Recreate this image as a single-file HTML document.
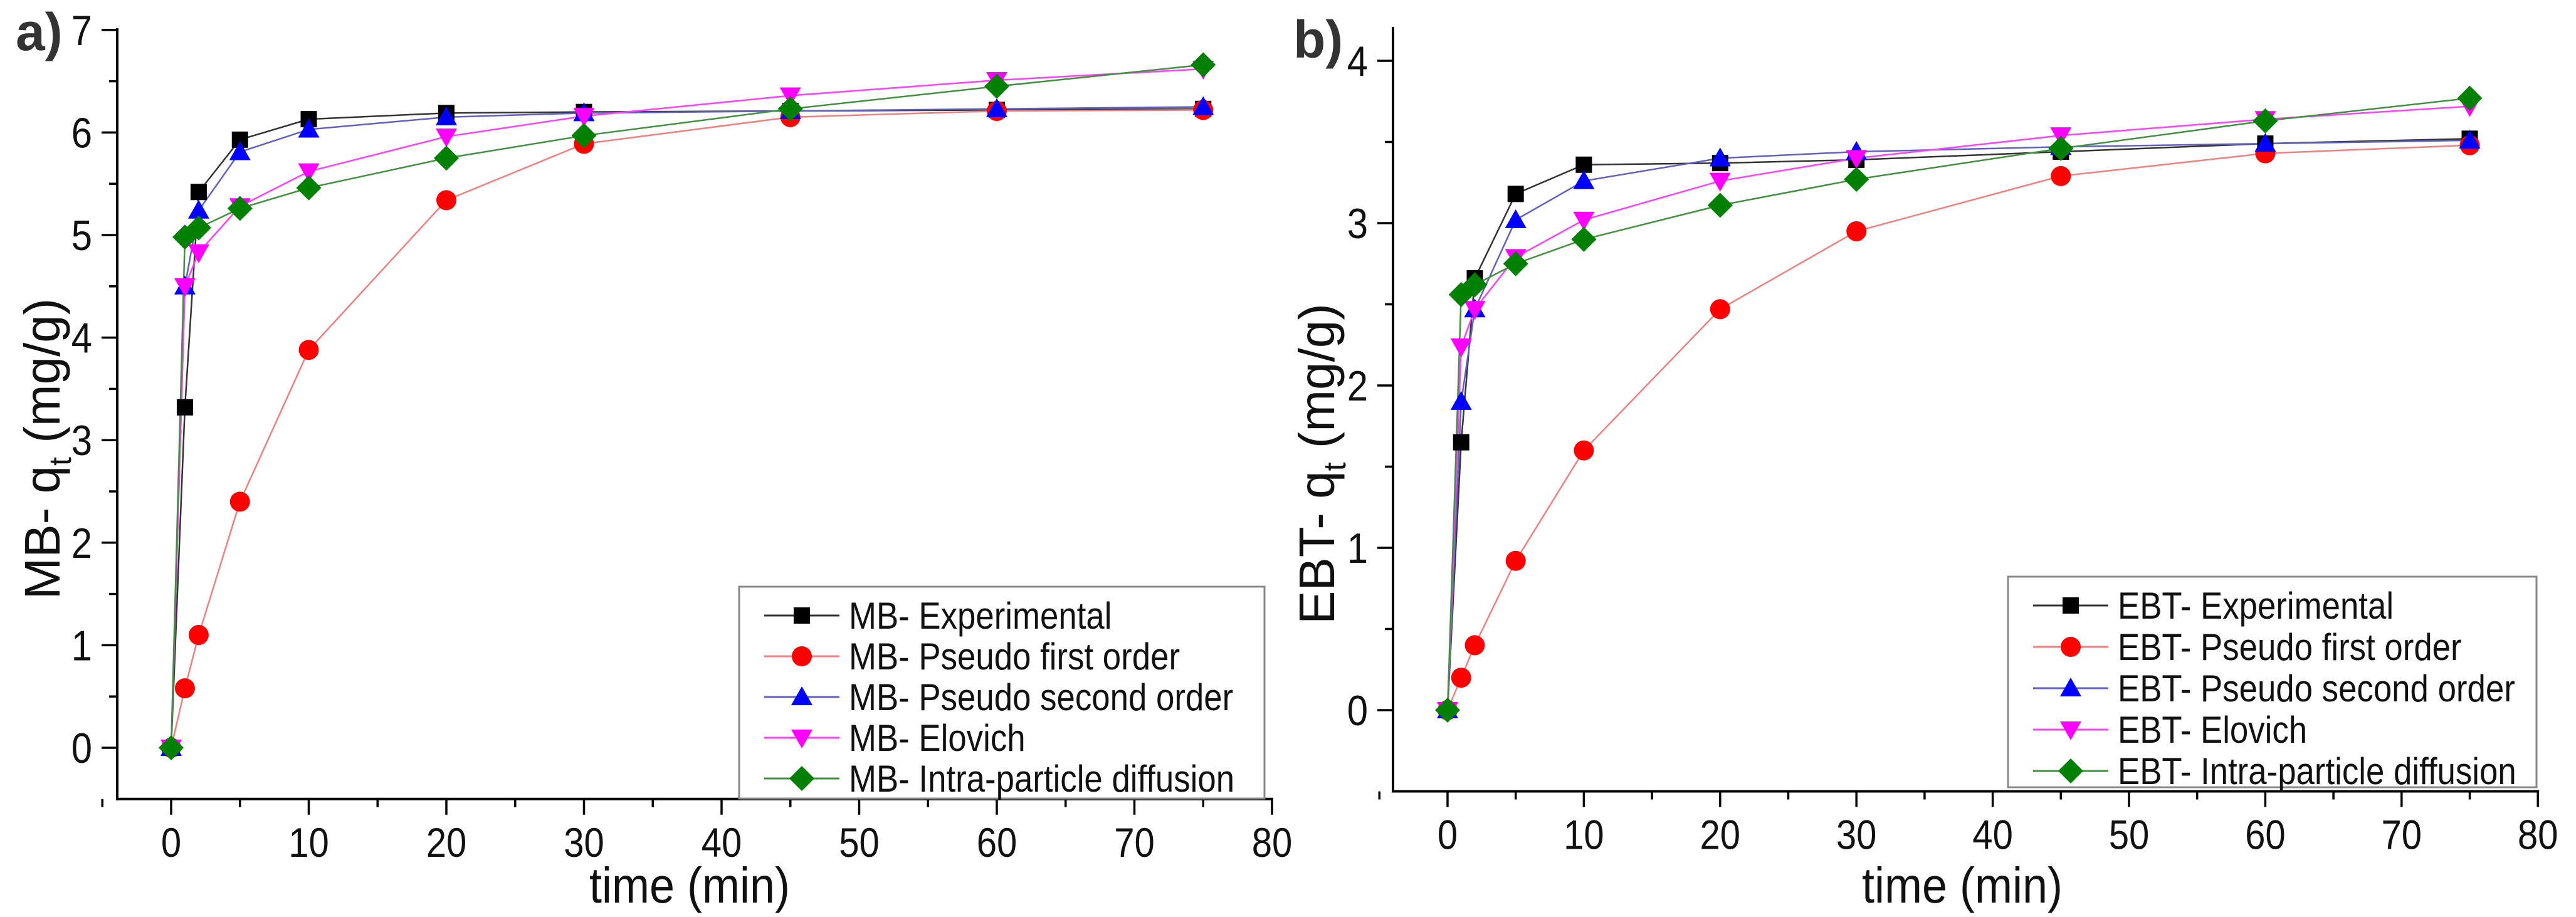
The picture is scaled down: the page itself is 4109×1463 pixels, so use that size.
<!DOCTYPE html>
<html><head><meta charset="utf-8"><style>
html,body{margin:0;padding:0;background:#fff;}
svg{display:block;font-family:"Liberation Sans",Arial,sans-serif;}
</style></head><body>
<svg id="chart" width="4109" height="1463" viewBox="0 0 4109 1463" xmlns="http://www.w3.org/2000/svg"></svg>
<script>
const times = [0,1,2,5,10,20,30,45,60,75];
const seriesNames = ["Experimental","Pseudo first order","Pseudo second order","Elovich","Intra-particle diffusion"];
const mbExp = [0,3.32,5.42,5.93,6.13,6.19,6.2,6.21,6.22,6.23];
const mbPFO = [0,0.58,1.1,2.4,3.88,5.34,5.89,6.15,6.21,6.22];
const mbPSO = [0,4.5,5.24,5.81,6.03,6.15,6.19,6.21,6.23,6.25];
const mbElo = [0,4.5,4.83,5.28,5.62,5.96,6.16,6.36,6.51,6.62];
const mbIPD = [0,4.98,5.07,5.26,5.46,5.75,5.97,6.23,6.45,6.66];
const ebtExp = [0,1.65,2.66,3.18,3.36,3.37,3.39,3.44,3.49,3.52];
const ebtPFO = [0,0.2,0.4,0.92,1.6,2.47,2.95,3.29,3.43,3.48];
const ebtPSO = [0,1.9,2.47,3.02,3.26,3.4,3.44,3.47,3.49,3.51];
const ebtElo = [0,2.24,2.47,2.79,3.02,3.26,3.4,3.54,3.64,3.72];
const ebtIPD = [0,2.56,2.62,2.75,2.9,3.11,3.27,3.46,3.63,3.77];
const xTicks = [0,10,20,30,40,50,60,70,80];
const mbYTicks = [0,1,2,3,4,5,6,7];
const ebtYTicks = [0,1,2,3,4];

const NS="http://www.w3.org/2000/svg";
const svg=document.getElementById('chart');
function el(tag,attrs,parent){const e=document.createElementNS(NS,tag);for(const k in attrs)e.setAttribute(k,attrs[k]);(parent||svg).appendChild(e);return e;}
const colors=["#000000","#ff0000","#0000ff","#ff00ff","#008000"];
const lineColors=["#333333","#f08080","#6060c0","#ff40ff","#409040"];
const shapes=["square","circle","tri","itri","diamond"];

function marker(g,shape,x,y,c){
  let m;
  if(shape==="square")m=el('rect',{x:x-13,y:y-13,width:26,height:26,fill:c},g);
  else if(shape==="circle")m=el('circle',{cx:x,cy:y,r:16,fill:c},g);
  else if(shape==="tri")m=el('polygon',{points:`${x},${y-17} ${x-17},${y+13} ${x+17},${y+13}`,fill:c},g);
  else if(shape==="itri")m=el('polygon',{points:`${x},${y+17} ${x-17},${y-13} ${x+17},${y-13}`,fill:c},g);
  else m=el('polygon',{points:`${x},${y-20} ${x+20},${y} ${x},${y+20} ${x-20},${y}`,fill:c},g);
  return m;
}

function panel(cfg){
  const g=el('g',{});
  
  
  const X=v=>cfg.x0+(v-0)*cfg.xu;
  const Y=v=>cfg.y0-v*cfg.yu;
  const ax=el('g',{},g);
  
  
  const axBottom=Y(-0.5);
  el('line',{x1:cfg.axX,y1:cfg.axTop,x2:cfg.axX,y2:axBottom+2,stroke:'#000','stroke-width':4},ax);
  el('line',{x1:cfg.axX-2,y1:axBottom,x2:X(80)+2,y2:axBottom,stroke:'#000','stroke-width':4},ax);
  for(let v=-5;v<=80;v+=5){
    const major=v%10===0;
    el('line',{x1:X(v),y1:axBottom,x2:X(v),y2:axBottom+(major?25:13),stroke:'#000','stroke-width':3.5},ax);
  }
  xTicks.forEach(v=>{
    const t=el('text',{x:X(v),y:axBottom+92,'font-size':66,'text-anchor':'middle',fill:'#111',transform:`translate(${X(v)},0) scale(0.88,1) translate(${-X(v)},0)`},ax);
    t.textContent=v;
    
    
  });
  const yt=cfg.yTicks;
  for(let v=-0.5;v<=yt[yt.length-1]+0.01;v+=0.5){
    if(v<-0.4)continue;
    const major=Math.abs(v-Math.round(v))<0.01;
    el('line',{x1:cfg.axX,y1:Y(v),x2:cfg.axX-(major?25:13),y2:Y(v),stroke:'#000','stroke-width':3.5},ax);
  }
  yt.forEach(v=>{
    const tx=cfg.axX-40;
    const t=el('text',{x:tx,y:Y(v)+24,'font-size':68,'text-anchor':'end',fill:'#111',transform:`translate(${tx},0) scale(0.88,1) translate(${-tx},0)`},ax);
    t.textContent=v;
    
    
  });
  const xt=el('text',{x:cfg.xTitleX,y:1440,'font-size':80,'text-anchor':'middle',fill:'#111',transform:`translate(${cfg.xTitleX},0) scale(0.9,1) translate(${-cfg.xTitleX},0)`},g);
  xt.textContent='time (min)';
  
  
  const ytl=el('text',{x:0,y:0,'font-size':80,'text-anchor':'middle',fill:'#111',transform:`translate(${cfg.yTitleX},${cfg.yTitleY}) rotate(-90)`},g);
  ytl.innerHTML=cfg.prefix+'- q<tspan font-size="50" dy="18">t</tspan><tspan dy="-18"> (mg/g)</tspan>';
  
  
  const lab=el('text',{x:cfg.labX,y:cfg.labY,'font-size':84,'font-weight':'bold',fill:'#333'},g);
  lab.textContent=cfg.label;
  
  
  cfg.data.forEach((arr,i)=>{
    const sg=el('g',{},g);
    
    
    const pts=arr.map((v,j)=>X(times[j])+','+Y(v)).join(' ');
    el('polyline',{points:pts,fill:'none',stroke:lineColors[i],'stroke-width':2.5},sg);
  });
  cfg.data.forEach((arr,i)=>{
    const sg=el('g',{},g);
    
    
    arr.forEach((v,j)=>{
      const m=marker(sg,shapes[i],X(times[j]),Y(v),colors[i]);
      
      
    });
  });
  const lg=el('g',{},g);
  
  
  el('rect',{x:cfg.lx,y:cfg.ly,width:cfg.lw,height:cfg.lh,fill:'#fff',stroke:'#888','stroke-width':3},lg);
  seriesNames.forEach((n,i)=>{
    const ey=cfg.ly+46+i*cfg.lstep;
    const e=el('g',{},lg);
    
    
    el('line',{x1:cfg.lx+40,y1:ey,x2:cfg.lx+160,y2:ey,stroke:lineColors[i],'stroke-width':3},e);
    marker(e,shapes[i],cfg.lx+100,ey,colors[i]);
    const tx=cfg.lx+175;
    const t=el('text',{x:tx,y:ey+21,'font-size':60,fill:'#111',transform:`translate(${tx},0) scale(0.88,1) translate(${-tx},0)`},e);
    t.textContent=cfg.prefix+'- '+n;
  });
}

panel({name:'panel-a-mb',prefix:'MB',label:'a)',labX:25,labY:80,x0:273,xu:21.95,y0:1193,yu:163.6,axX:187,axTop:45,
  yTicks:mbYTicks,data:[mbExp,mbPFO,mbPSO,mbElo,mbIPD],xTitleX:1100,yTitleX:95,yTitleY:716,
  lx:1179,ly:936,lw:838,lh:338,lstep:65});
panel({name:'panel-b-ebt',prefix:'EBT',label:'b)',labX:2063,labY:92,x0:2309,xu:21.74,y0:1133,yu:259,axX:2222,axTop:43,
  yTicks:ebtYTicks,data:[ebtExp,ebtPFO,ebtPSO,ebtElo,ebtIPD],xTitleX:3130,yTitleX:2128,yTitleY:740,
  lx:3203,ly:920,lw:843,lh:336,lstep:66});
</script>
</body></html>
